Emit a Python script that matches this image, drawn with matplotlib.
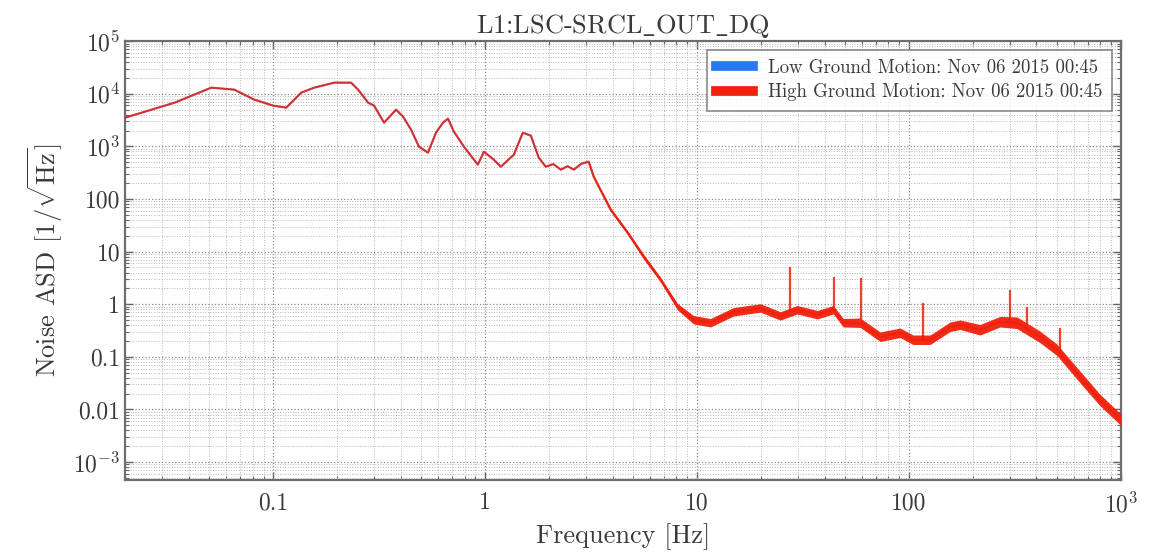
import numpy as np
import matplotlib
matplotlib.use("Agg")
import matplotlib.pyplot as plt
from matplotlib.ticker import FixedLocator, LogLocator, NullFormatter

plt.rcParams['font.family'] = 'cmr10'
plt.rcParams['mathtext.fontset'] = 'cm'
plt.rcParams['axes.unicode_minus'] = False

# SRCL noise spectrum (ASD) - centre of the trace
freq = [0.02, 0.0342, 0.051, 0.0655, 0.0814, 0.1, 0.1151, 0.1355, 0.156, 0.194,
        0.233, 0.2515, 0.2803, 0.2991, 0.3334, 0.3798, 0.41, 0.4469, 0.4874, 0.5373,
        0.5861, 0.6324, 0.6677, 0.7124, 0.7941, 0.924, 0.9865, 1.0995, 1.1863, 1.366,
        1.506, 1.643, 1.791, 1.932, 2.1, 2.275, 2.45, 2.619, 2.85, 3.083, 3.253, 3.913, 4.706,
        5.598, 6.732, 8.092, 9.627, 11.58, 14.86, 19.92, 24.74, 29.76, 36.96,
        43.97, 49.0, 58.93, 73.2, 90.9, 104.7, 126.0, 156.4, 174.4, 216.6,
        269.1, 323.6, 415.3, 499.4, 641.0, 796.0, 1000.0]
asd = [3510, 6770, 13060, 11970, 7720, 5940, 5440, 10500, 13060, 16260,
       16260, 11970, 6770, 5940, 2820, 4990, 3670, 2080, 986, 759,
       1820, 2820, 3360, 1900, 986, 449, 792, 558, 411, 695,
       1820, 1600, 610, 411, 460, 361, 420, 361, 470, 512, 265, 62.6, 22.9,
       8.0, 2.92, 0.896, 0.507, 0.445, 0.719, 0.85, 0.6, 0.786, 0.631,
       0.786, 0.445, 0.445, 0.241, 0.287, 0.211, 0.211, 0.373, 0.407, 0.327,
       0.465, 0.445, 0.241, 0.136, 0.0419, 0.0153, 0.0064]

# spread of the trace above ~3 Hz
band_freq = [3.083, 3.253, 3.913, 4.706, 5.598, 6.732, 8.092, 9.627, 11.58, 14.86,
             19.92, 24.74, 29.76, 36.96, 43.97, 49.0, 58.93, 73.2, 90.9, 104.7,
             126.0, 156.4, 174.4, 216.6, 269.1, 323.6, 415.3, 499.4, 641.0, 796.0, 1000.0]
band_hi = [549, 284, 67.9, 24.8, 8.87, 3.24, 1.03, 0.61, 0.535, 0.864,
           1.02, 0.721, 0.945, 0.759, 0.945, 0.535, 0.547, 0.297, 0.353, 0.26,
           0.26, 0.459, 0.501, 0.412, 0.585, 0.573, 0.31, 0.175, 0.054, 0.0197, 0.0082]
band_lo = [478, 247, 57.8, 21.1, 7.21, 2.63, 0.78, 0.422, 0.37, 0.598,
           0.707, 0.499, 0.654, 0.525, 0.654, 0.37, 0.362, 0.196, 0.233, 0.172,
           0.172, 0.303, 0.331, 0.26, 0.369, 0.345, 0.187, 0.106, 0.0325, 0.0119, 0.005]

# narrow lines
line_freq = [27.5, 44.5, 59.5, 116.0, 300.0, 360.0, 515.0]
line_base = [0.7, 0.75, 0.45, 0.21, 0.45, 0.4, 0.13]
line_top = [5.2, 3.3, 3.2, 1.07, 1.9, 0.9, 0.36]

xticks = [0.1, 1, 10, 100, 1000]
xticklabels = ['0.1', '1', '10', '100', r'$10^3$']
yticks = [1e-3, 1e-2, 1e-1, 1, 10, 100, 1e3, 1e4, 1e5]
yticklabels = [r'$10^{-3}$', '0.01', '0.1', '1', '10', '100', r'$10^3$', r'$10^4$', r'$10^5$']

blue = '#2a78f0'
red = '#f2200c'
txt = '#3a3a3a'

fig = plt.figure(figsize=(11.59, 5.56), dpi=100)
ax = fig.add_axes([0.108, 0.137, 0.859, 0.789])
ax.set_xscale('log')
ax.set_yscale('log')

ax.plot(freq, asd, color=blue, lw=1.1, label='Low Ground Motion: Nov 06 2015 00:45', zorder=3)
ax.fill_between(band_freq, band_lo, band_hi, color=red, lw=0, alpha=0.95, zorder=4)
ax.plot(freq, asd, color=red, lw=1.6, alpha=0.8, label='High Ground Motion: Nov 06 2015 00:45', zorder=5)
ax.vlines(line_freq, line_base, line_top, color=red, lw=1.6, alpha=0.85, zorder=5)

ax.set_xlim(0.02, 1000)
ax.set_ylim(4.6e-4, 1e5)

ax.xaxis.set_major_locator(FixedLocator(xticks))
ax.set_xticklabels(xticklabels)
ax.yaxis.set_major_locator(FixedLocator(yticks))
ax.set_yticklabels(yticklabels)
ax.xaxis.set_minor_locator(LogLocator(base=10, subs=np.arange(2, 10), numticks=20))
ax.yaxis.set_minor_locator(LogLocator(base=10, subs=np.arange(2, 10), numticks=20))
ax.xaxis.set_minor_formatter(NullFormatter())
ax.yaxis.set_minor_formatter(NullFormatter())

ax.tick_params(which='both', direction='in', top=True, right=True, colors='#666666',
               labelcolor=txt, labelsize=17)
ax.tick_params(which='major', length=6, width=1)
ax.tick_params(which='minor', length=3, width=0.8)
ax.tick_params(axis='x', pad=9)

ax.grid(True, which='major', ls=':', lw=0.9, color='#8c8c8c')
ax.grid(True, which='minor', ls=':', lw=0.7, color='#b8b8b8')
ax.set_axisbelow(True)

for s in ax.spines.values():
    s.set_color('#6e6e6e')
    s.set_linewidth(1.6)

ax.set_title(r'L1:LSC-SRCL$\_$OUT$\_$DQ', fontsize=19, color=txt, pad=6)
ax.set_xlabel('Frequency [Hz]', fontsize=19, color=txt, labelpad=4)
ax.set_ylabel(r'Noise ASD [1/$\sqrt{\mathrm{Hz}}$]', fontsize=19, color=txt, labelpad=6)

leg = ax.legend(loc='upper right', fontsize=13.5, handlelength=2.0, frameon=True,
                fancybox=False, borderpad=0.5, labelspacing=0.35, handletextpad=0.8,
                borderaxespad=0.45)
leg.get_frame().set_edgecolor('#6e6e6e')
leg.get_frame().set_linewidth(1.2)
for h in leg.get_lines():
    h.set_linewidth(7)
    h.set_alpha(1)
for t in leg.get_texts():
    t.set_color(txt)

fig.savefig('out.png', dpi=100)
